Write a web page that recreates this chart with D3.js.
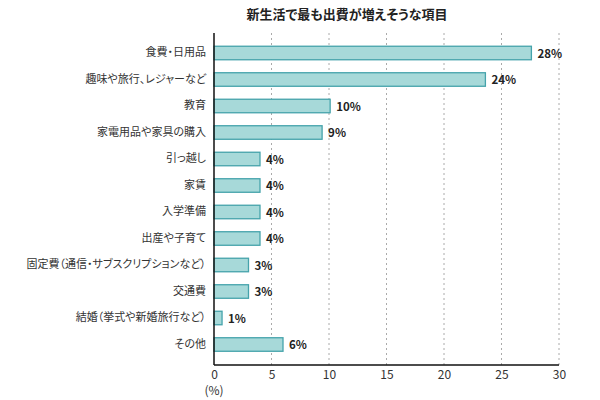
<!DOCTYPE html>
<html><head><meta charset="utf-8">
<script src="https://cdn.jsdelivr.net/npm/d3@7"></script>
<style>body{margin:0;background:#fff;} text{font-family:"Noto Sans CJK JP","Noto Sans",sans-serif;font-feature-settings:"palt";}</style>
</head><body><svg id="c" width="600" height="400"></svg>
<script>
const categories = ["食費・日用品","趣味や旅行、レジャーなど","教育","家電用品や家具の購入","引っ越し","家賃","入学準備","出産や子育て","固定費（通信・サブスクリプションなど）","交通費","結婚（挙式や新婚旅行など）","その他"];
const values = [27.6, 23.6, 10.1, 9.4, 4.0, 4.0, 4.0, 4.0, 3.0, 3.0, 0.7, 6.0];
const valueLabels = ["28%","24%","10%","9%","4%","4%","4%","4%","3%","3%","1%","6%"];
const xTicks = [0,5,10,15,20,25,30];
const title = "新生活で最も出費が増えそうな項目";

const svg = d3.select("#c");
const x = d3.scaleLinear().domain([0,30]).range([214,559]);
const y = d3.scaleBand().domain(categories).range([39.25,357.25]).paddingInner(0.49).paddingOuter(0.245);
const plotTop = 33, plotBottom = 365;

svg.append("text").attr("x",347).attr("y",19).attr("text-anchor","middle")
  .attr("font-size",13).attr("font-weight","bold").attr("fill","#222").text(title);

// grid
svg.append("g").selectAll("line").data(xTicks.filter(d=>d>0)).join("line")
  .attr("x1",d=>x(d)).attr("x2",d=>x(d)).attr("y1",plotTop).attr("y2",plotBottom)
  .attr("stroke","#aaa").attr("stroke-width",1).attr("stroke-dasharray","2,3");

// bars
svg.append("g").selectAll("rect").data(categories).join("rect")
  .attr("x",x(0)).attr("y",d=>y(d)+0.5).attr("width",(d,i)=>x(values[i])-x(0)).attr("height",y.bandwidth())
  .attr("fill","#a7d9d9").attr("stroke","#45a3ab").attr("stroke-width",1.3);

// value labels
svg.append("g").selectAll("text").data(categories).join("text")
  .attr("x",(d,i)=>x(values[i])+6).attr("y",d=>y(d)+y.bandwidth()/2+5)
  .attr("font-size",11.5).attr("font-weight","bold").attr("fill","#222").text((d,i)=>valueLabels[i]);

// category axis
const ya = svg.append("g").attr("transform",`translate(${x(0)},0)`)
  .call(d3.axisLeft(y).tickSize(0).tickPadding(8));
ya.select(".domain").remove();
ya.selectAll("text").attr("font-size",11).attr("fill","#333").attr("font-family","Noto Sans CJK JP").attr("dy","0.35em");

// x axis
const xa = svg.append("g").attr("transform",`translate(0,${plotBottom})`)
  .call(d3.axisBottom(x).tickValues(xTicks).tickSize(0).tickPadding(5));
xa.select(".domain").remove();
xa.selectAll("text").attr("font-size",12).attr("fill","#333").attr("font-family","Noto Sans CJK JP");

svg.append("text").attr("x",x(0)).attr("y",395).attr("text-anchor","middle")
  .attr("font-size",12).attr("fill","#333").text("(%)");

// axis lines
svg.append("line").attr("x1",x(0)).attr("x2",x(0)).attr("y1",plotTop).attr("y2",plotBottom).attr("stroke","#111").attr("stroke-width",1.5);
svg.append("line").attr("x1",x(0)).attr("x2",x(30)).attr("y1",plotBottom).attr("y2",plotBottom).attr("stroke","#111").attr("stroke-width",1.5);
</script></body></html>
